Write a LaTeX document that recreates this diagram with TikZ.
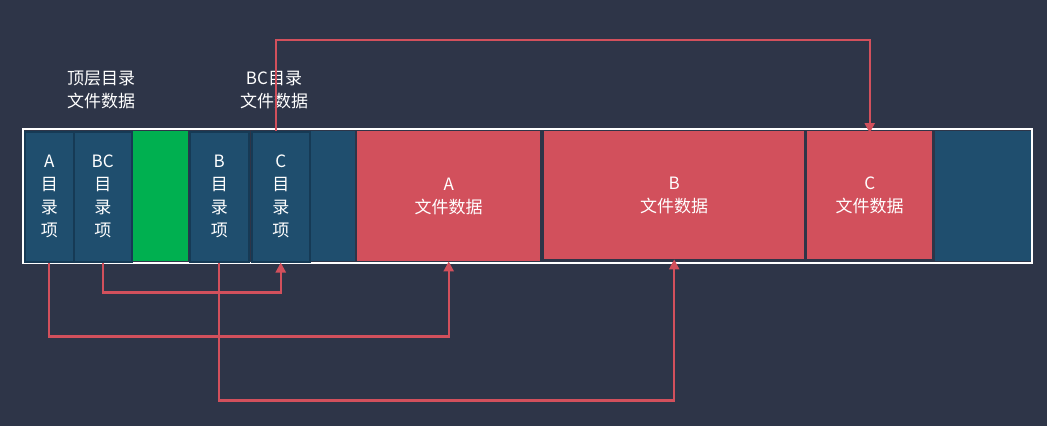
\documentclass[tikz,border=0pt]{standalone}
\usepackage{fontspec}
\setmainfont{Noto Sans CJK SC}
\usetikzlibrary{arrows.meta}
\definecolor{bg}{HTML}{2E3548}
\definecolor{cblue}{HTML}{1F4E6E}
\definecolor{cdark}{HTML}{163A55}
\definecolor{cred}{HTML}{D2505C}
\definecolor{cgreen}{HTML}{00B050}
\tikzset{
 cell/.style={fill=#1, minimum height=130pt, inner sep=0pt, text=white, font=\fontsize{17}{23}\selectfont, align=center, anchor=north west},
 dircell/.style={cell=cblue, draw=cdark, line width=1.5pt},
 link/.style={draw=cred, line width=2.2pt, -{Triangle[length=10pt,width=10pt]}},
 lbl/.style={text=white, font=\fontsize{17}{23}\selectfont, align=center}
}
\begin{document}
\begin{tikzpicture}[x=1pt,y=-1pt]
\fill[bg] (0,0) rectangle (1047,426);
\draw[white, line width=2.5pt] (23,129) rectangle (1032,263);
\node[cell=cgreen, minimum width=57pt] (g) at (131,131) {};
\node[cell=cblue, minimum width=46pt] (e1) at (309,131) {};
\node[dircell, minimum width=49pt] (a) at (24,131) {A\\目\\录\\项};
\node[dircell, minimum width=58pt] (bc) at (73,131) {BC\\目\\录\\项};
\node[dircell, minimum width=59pt] (b) at (189,131) {B\\目\\录\\项};
\node[dircell, minimum width=58pt] (c) at (251,131) {C\\目\\录\\项};
\node[cell=cred, minimum width=183pt] (ra) at (357,131) {A\\文件数据};
\node[cell=cred, minimum width=260pt, minimum height=128pt] (rb) at (544,131) {B\\文件数据};
\node[cell=cred, minimum width=125pt, minimum height=128pt] (rc) at (807,131) {C\\文件数据};
\node[cell=cblue, minimum width=96pt] (e2) at (935,131) {};
\node[lbl] (t1) at (101,90) {顶层目录\\文件数据};
\node[lbl] (t2) at (274,90) {BC目录\\文件数据};
\draw[link] (a.south) -- ++(0,74) -| (ra.south);
\draw[link] (bc.south) -- ++(0,30) -| (c.south);
\draw[link] (b.south) -- ++(0,138) -| (rb.south);
\draw[link] ([xshift=-5pt]c.north) -- ++(0,-91) -| ([yshift=-2pt]rc.north);
\end{tikzpicture}
\end{document}
